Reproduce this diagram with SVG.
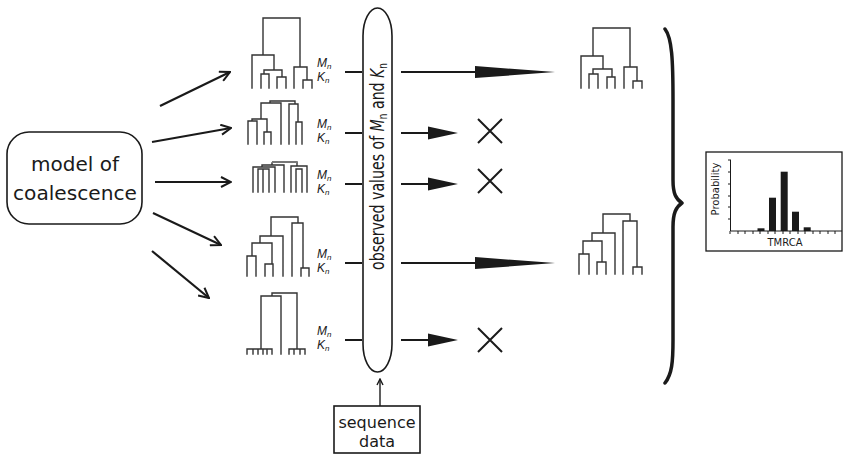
<svg xmlns="http://www.w3.org/2000/svg" width="845" height="455" viewBox="0 0 845 455">
<defs>
<style>
.tree{fill:none;stroke:#333;stroke-width:1.4;stroke-linecap:square}
.con{fill:none;stroke:#1a1a1a;stroke-width:2.2}
.box{fill:#fff;stroke:#1a1a1a;stroke-width:1.6}
.lbl{font-family:"DejaVu Sans",sans-serif;fill:#1a1a1a}
.mk{font-family:"Liberation Sans",sans-serif;font-style:italic;font-size:12px;fill:#1a1a1a}
.sub{font-size:8px}
.x{fill:none;stroke:#1a1a1a;stroke-width:2}
.small{font-family:"DejaVu Sans",sans-serif;font-size:10px;fill:#1a1a1a}
</style>
<marker id="open" viewBox="0 0 12 12" refX="11" refY="6" markerWidth="12" markerHeight="12" markerUnits="userSpaceOnUse" orient="auto">
<path d="M1,1 L11,6 L1,11" fill="none" stroke="#1a1a1a" stroke-width="2"/>
</marker>
<marker id="small" viewBox="0 0 8 8" refX="7" refY="4" markerWidth="8" markerHeight="8" markerUnits="userSpaceOnUse" orient="auto">
<path d="M1,1 L7,4 L1,7" fill="none" stroke="#1a1a1a" stroke-width="1.4"/>
</marker>
<path id="longHead" d="M0,-6 L80,0 L0,6 Z" fill="#1a1a1a"/>
<path id="shortHead" d="M0,-6.5 L30,0 L0,6.5 Z" fill="#1a1a1a"/>
<path id="cross" d="M-12,-12 L12,12 M12,-12 L-12,12"/>
</defs>

<g id="model">
<rect class="box" x="7" y="132" width="135" height="92" rx="22" ry="22"/>
<text class="lbl" x="75" y="171" font-size="20" text-anchor="middle">model of</text>
<text class="lbl" x="75" y="200" font-size="20" text-anchor="middle" textLength="124" lengthAdjust="spacingAndGlyphs">coalescence</text>
</g>

<g id="tree1">
<path class="tree" d="M263 18 H300 M263 18 V55 M300 18 V67 M252 55 H274 M252 55 V88 M274 55 V70 M264 70 H282 M264 70 V74 M261 74 H269 M261 74 V88 M269 74 V88 M282 70 V77 M277 77 H286 M277 77 V88 M286 77 V88 M294 67 H307 M294 67 V88 M307 67 V80 M303 80 H312 M303 80 V88 M312 80 V88"/>
<text class="mk" x="317" y="67">M<tspan class="sub" dy="2">n</tspan></text>
<text class="mk" x="317" y="81">K<tspan class="sub" dy="2">n</tspan></text>
</g>
<g id="tree2">
<path class="tree" d="M270 101 H295 M270 101 V103 M261 103 H281 M281 103 V144 M261 103 V119 M252 119 H267 M252 119 V121 M248 121 H257 M248 121 V144 M257 121 V144 M267 119 V132 M264 132 H271 M264 132 V144 M271 132 V144 M295 101 V104 M289 104 H298 M289 104 V144 M298 104 V122 M296 122 H302 M296 122 V144 M302 122 V144"/>
<text class="mk" x="317" y="128">M<tspan class="sub" dy="2">n</tspan></text>
<text class="mk" x="317" y="142">K<tspan class="sub" dy="2">n</tspan></text>
</g>
<g id="tree3">
<path class="tree" d="M272 163 V165 M262 165 H284 M262 165 V167 M253 167 H275 M253 167 V192 M275 167 V192 M258 169 H269 M258 169 V192 M269 169 V192 M263 169 V192 M284 165 V192 M297 162 V166 M291 166 H307 M291 166 V192 M307 166 V192 M296 169 H302 M296 169 V192 M302 169 V192"/>
<path d="M272 162 H297" fill="none" stroke="#777" stroke-width="2"/>
<text class="mk" x="317" y="179">M<tspan class="sub" dy="2">n</tspan></text>
<text class="mk" x="317" y="193">K<tspan class="sub" dy="2">n</tspan></text>
</g>
<g id="tree4">
<path class="tree" d="M271 217 H298 M271 217 V236 M298 217 V223 M292 223 H303 M292 223 V276 M303 223 V268 M301 268 H309 M301 268 V276 M309 268 V276 M260 236 H283 M283 236 V276 M260 236 V243 M252 243 H272 M252 243 V256 M247 256 H256 M247 256 V276 M256 256 V276 M272 243 V264 M265 264 H273 M265 264 V276 M273 264 V276"/>
<text class="mk" x="317" y="258">M<tspan class="sub" dy="2">n</tspan></text>
<text class="mk" x="317" y="272">K<tspan class="sub" dy="2">n</tspan></text>
</g>
<g id="tree5">
<path class="tree" d="M272 293 H297 M272 293 V296 M261 296 H281 M281 296 V354 M261 296 V349 M247 349 H272 M247 349 V354 M253 349 V354 M258 349 V354 M263 349 V354 M267 349 V354 M272 349 V354 M297 293 V349 M289 349 H305 M289 349 V354 M294 349 V354 M300 349 V354 M305 349 V354"/>
<text class="mk" x="317" y="335">M<tspan class="sub" dy="2">n</tspan></text>
<text class="mk" x="317" y="349">K<tspan class="sub" dy="2">n</tspan></text>
</g>

<g id="observed">
<rect class="box" x="363" y="8" width="29" height="364" rx="14.5" ry="28"/>
<text class="lbl" font-size="19" text-anchor="middle" transform="translate(384,166.5) rotate(-90)" textLength="207" lengthAdjust="spacingAndGlyphs">observed values of <tspan font-style="italic">M</tspan><tspan font-size="12" dy="3">n</tspan><tspan dy="-3"> and </tspan><tspan font-style="italic">K</tspan><tspan font-size="12" dy="3">n</tspan></text>
</g>

<g id="sequence">
<rect class="box" x="334" y="406" width="86" height="47"/>
<text class="lbl" x="377" y="428" font-size="16" text-anchor="middle">sequence</text>
<text class="lbl" x="377" y="447" font-size="16" text-anchor="middle">data</text>
</g>

<g id="result1">
<path class="tree" d="M593 28 H630 M593 28 V56 M630 28 V67 M581 56 H603 M581 56 V88 M603 56 V69 M593 69 H612 M593 69 V74 M589 74 H598 M589 74 V88 M598 74 V88 M612 69 V77 M607 77 H615 M607 77 V88 M615 77 V88 M624 67 H637 M624 67 V88 M637 67 V81 M633 81 H642 M633 81 V88 M642 81 V88"/>
</g>
<g id="result2">
<path class="tree" d="M603 214 H630 M603 214 V233 M592 233 H615 M615 233 V274 M592 233 V241 M583 241 H602 M583 241 V254 M579 254 H589 M579 254 V274 M589 254 V274 M602 241 V262 M597 262 H606 M597 262 V274 M606 262 V274 M630 214 V221 M623 221 H637 M623 221 V274 M637 221 V267 M633 267 H642 M633 267 V274 M642 267 V274"/>
</g>

<g id="rejects">
<use href="#cross" class="x" x="490" y="131"/>
<use href="#cross" class="x" x="490" y="181"/>
<use href="#cross" class="x" x="490" y="340"/>
</g>

<g id="brace">
<path d="M665 29 C672 38, 673 60, 673 100 L673 180 C673 194, 676 199, 682 203 C676 207, 673 213, 673 227 L673 340 C673 362, 672 374, 665 383" fill="none" stroke="#1a1a1a" stroke-width="3.5" stroke-linecap="round" stroke-linejoin="round"/>
</g>

<g id="histogram">
<rect x="706" y="152" width="136" height="99" fill="#fff" stroke="#1a1a1a" stroke-width="1.3"/>
<path d="M730.5 160 V231 H842" fill="none" stroke="#1a1a1a" stroke-width="1"/>
<path d="M728 160 H731 M728 172 H731 M728 184 H731 M728 196 H731 M728 207 H731 M728 219 H731 M730 231 V234 M738 231 V234 M745 231 V234 M753 231 V234 M760 231 V234 M768 231 V234 M775 231 V234 M783 231 V234 M790 231 V234 M798 231 V234 M805 231 V234 M813 231 V234 M820 231 V234 M828 231 V234 M835 231 V234" fill="none" stroke="#1a1a1a" stroke-width="1"/>
<g fill="#1a1a1a">
<rect x="757.5" y="228.3" width="7" height="2.7"/>
<rect x="769" y="197.7" width="7" height="33.3"/>
<rect x="780.7" y="171.7" width="7" height="59.3"/>
<rect x="792" y="211.7" width="7" height="19.3"/>
<rect x="803.7" y="227.3" width="7" height="3.7"/>
</g>
<text class="small" text-anchor="middle" transform="translate(719,189) rotate(-90)">Probability</text>
<text class="small" x="785" y="246" text-anchor="middle">TMRCA</text>
</g>

<g id="connectors">
<path class="con" d="M160 106 L230 72" marker-end="url(#open)"/>
<path class="con" d="M152 142 L231 128" marker-end="url(#open)"/>
<path class="con" d="M155 182 L231 182" marker-end="url(#open)"/>
<path class="con" d="M153 213 L221 245" marker-end="url(#open)"/>
<path class="con" d="M152 251 L209 298" marker-end="url(#open)"/>
<path class="con" d="M345 72 H362 M345 133 H362 M345 184 H362 M345 263 H362 M345 340 H362"/>
<path class="con" d="M401 72 H480 M401 263 H480 M401 133 H430 M401 184 H430 M401 340 H430"/>
<use href="#longHead" x="475" y="72"/>
<use href="#longHead" x="475" y="263"/>
<use href="#shortHead" x="428" y="133"/>
<use href="#shortHead" x="428" y="184"/>
<use href="#shortHead" x="428" y="340"/>
<path d="M380 406 V379" fill="none" stroke="#1a1a1a" stroke-width="1.4" marker-end="url(#small)"/>
</g>
</svg>
